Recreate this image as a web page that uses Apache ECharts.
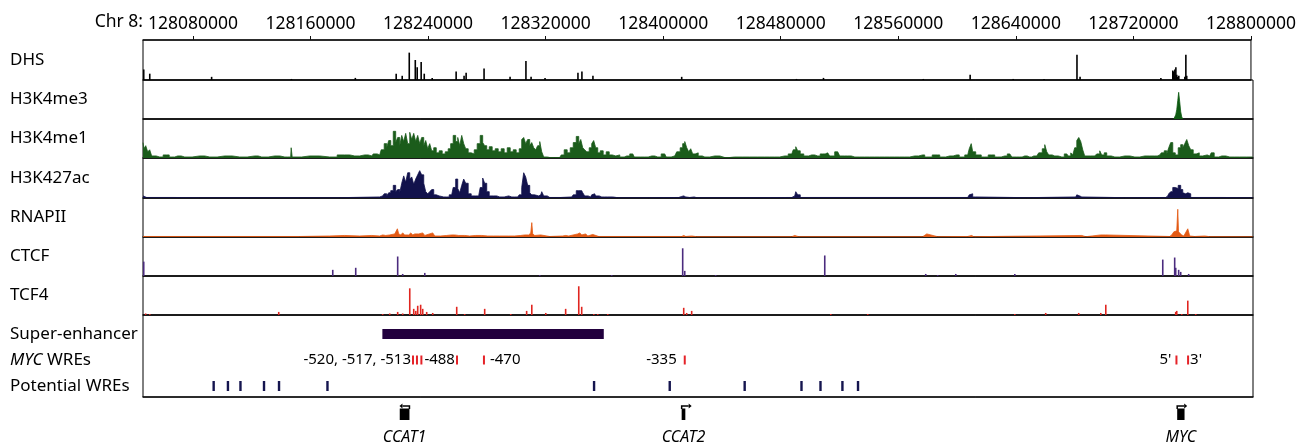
<!DOCTYPE html>
<html>
<head>
<meta charset="utf-8">
<script src="https://cdn.jsdelivr.net/npm/echarts@6/dist/echarts.min.js"></script>
<style>html,body{margin:0;background:#fff}#chart{width:1299px;height:443px}</style>
</head>
<body>
<div id="chart"></div>
<script>
// genomic window on chr8, in kb
var winStart = 128046, winEnd = 128800;
var tickKb = [128080, 128160, 128240, 128320, 128400, 128480, 128560, 128640, 128720, 128800];

var trackNames = ['DHS', 'H3K4me3', 'H3K4me1', 'H3K427ac', 'RNAPII', 'CTCF', 'TCF4'];

// [position kb, signal]
var dhs = [[128046.5,10],[128050.6,6],[128092.7,3],[128147.0,1],[128190.5,2],[128218.3,6],[128222.4,4],[128227.2,26],[128231.3,19],[128232.6,12],[128235.3,17],[128237.4,6],[128242.8,2],[128259.1,8],[128264.5,4],[128265.9,7],[128278.1,11],[128295.8,3],[128306.6,18],[128310.1,3],[128319.6,2],[128342.0,7],[128344.7,8],[128352.2,4],[128412.6,3],[128490.7,1],[128509.1,2],[128577.0,1],[128608.9,5],[128638.2,1],[128659.2,1],[128681.6,24],[128683.7,3],[128738.7,2],[128746.8,9],[128747.5,8],[128748.2,10],[128748.9,12],[128749.5,5],[128750.2,3],[128750.9,4],[128755.0,3],[128755.7,24],[128756.3,4]];

var h3k4me3 = [[128746.2,0],[128747.5,4],[128748.2,9],[128748.9,18],[128749.5,26],[128750.2,17],[128750.9,7],[128751.6,2],[128752.4,0]];

var h3k4me1 = [[128046.0,15],[128047.2,9],[128048.5,12],[128049.9,6],[128051.2,8],[128052.6,2],[128057.3,1],[128062.1,3],[128065.5,1],[128069.6,2],[128074.3,1],[128084.5,2],[128091.3,1],[128101.5,2],[128111.7,1],[128121.9,2],[128126.6,1],[128135.5,2],[128142.3,1],[128146.3,1],[128147.0,10],[128147.7,1],[128148.4,1],[128159.2,2],[128172.8,1],[128183.0,3],[128189.8,2],[128196.6,3],[128201.4,2],[128203.4,4],[128206.8,3],[128208.8,8],[128210.9,14],[128212.2,10],[128213.6,17],[128215.0,12],[128217.0,26],[128218.3,15],[128219.7,20],[128221.1,12],[128222.4,22],[128223.8,16],[128225.1,24],[128226.5,14],[128227.9,25],[128229.2,18],[128230.6,24],[128231.9,16],[128233.3,22],[128234.6,14],[128236.0,20],[128237.4,12],[128238.7,17],[128240.1,9],[128241.4,14],[128242.8,7],[128244.2,10],[128246.2,5],[128248.2,7],[128250.3,4],[128252.3,6],[128254.3,9],[128255.7,14],[128257.7,22],[128259.1,16],[128260.5,20],[128261.8,12],[128263.2,22],[128264.5,14],[128265.9,9],[128267.9,5],[128270.0,4],[128272.0,8],[128274.0,14],[128276.1,22],[128277.4,15],[128278.8,12],[128280.2,8],[128282.2,11],[128284.2,7],[128286.3,9],[128288.3,6],[128290.3,9],[128292.4,5],[128294.4,10],[128296.5,6],[128298.5,8],[128300.5,5],[128302.6,9],[128303.9,18],[128305.3,20],[128306.6,14],[128308.0,18],[128309.4,12],[128310.7,15],[128312.1,10],[128313.4,8],[128314.8,12],[128316.2,16],[128317.5,6],[128318.9,1],[128322.3,0.5],[128329.1,0.5],[128331.1,3],[128333.1,8],[128335.2,5],[128337.2,10],[128339.3,15],[128341.3,21],[128342.7,14],[128344.0,18],[128345.4,10],[128346.7,8],[128348.1,6],[128350.1,10],[128351.5,14],[128352.8,17],[128354.2,10],[128355.6,5],[128357.6,7],[128359.6,3],[128361.7,6],[128363.7,3],[128365.8,2],[128368.5,3],[128371.2,1],[128374.6,2],[128378.7,4],[128380.7,1],[128386.8,1],[128391.6,2],[128395.6,1],[128400.4,4],[128402.4,1],[128407.2,2],[128409.9,6],[128411.9,10],[128413.3,14],[128414.7,16],[128416.0,10],[128417.4,6],[128418.7,9],[128420.1,4],[128422.1,5],[128424.2,2],[128427.6,1],[128434.4,2],[128441.2,0.5],[128447.9,1],[128458.1,1],[128468.3,1],[128475.1,1],[128481.9,2],[128486.7,4],[128488.7,8],[128490.1,11],[128491.4,7],[128493.5,4],[128496.2,2],[128500.2,3],[128504.3,2],[128507.7,4],[128511.1,5],[128513.8,2],[128517.9,6],[128520.6,2],[128524.7,2],[128529.5,1],[128536.2,1],[128543.0,1],[128549.8,1],[128556.6,1],[128563.4,1],[128570.2,2],[128575.6,3],[128578.4,1],[128585.8,3],[128588.6,1],[128594.0,2],[128598.7,3],[128602.2,1],[128606.2,3],[128608.3,9],[128608.9,14],[128610.3,6],[128613.0,3],[128617.8,1],[128622.5,3],[128626.6,1],[128631.4,2],[128634.8,4],[128637.5,1],[128641.5,1],[128644.9,2],[128648.3,1],[128651.1,2],[128653.1,2],[128655.8,5],[128657.9,9],[128659.2,13],[128660.6,6],[128661.9,3],[128665.3,2],[128670.1,1],[128673.5,4],[128675.5,2],[128676.9,5],[128678.2,3],[128679.6,10],[128681.0,17],[128682.3,20],[128683.7,16],[128685.0,8],[128686.4,2],[128692.5,2],[128695.2,4],[128696.6,7],[128697.9,3],[128700.0,5],[128701.3,2],[128706.1,1],[128712.9,2],[128719.7,1],[128726.5,2],[128733.3,2],[128736.7,3],[128738.7,5],[128740.7,7],[128742.1,4],[128743.4,10],[128744.8,15],[128746.2,5],[128748.2,3],[128750.2,10],[128751.6,13],[128753.0,10],[128754.3,14],[128755.7,18],[128757.0,12],[128758.4,8],[128760.4,4],[128762.5,5],[128764.5,2],[128767.2,3],[128770.6,2],[128772.6,5],[128774.7,1],[128778.8,2],[128784.2,1],[128791.0,1],[128799.8,1]];

var h3k27ac = [[128046.0,2],[128048.5,0.5],[128084.5,0.3],[128152.4,0.3],[128206.8,1],[128208.8,2],[128210.9,4],[128212.2,2],[128213.6,5],[128215.0,7],[128217.0,12],[128218.3,6],[128219.7,8],[128221.1,5],[128222.4,14],[128223.8,21],[128225.1,15],[128226.5,24],[128227.9,18],[128229.2,20],[128230.6,13],[128231.9,18],[128233.3,22],[128234.6,26],[128236.0,22],[128237.4,14],[128238.7,6],[128240.1,4],[128241.4,6],[128242.8,8],[128244.2,3],[128246.2,2],[128248.2,1],[128252.3,1],[128255.7,3],[128257.7,10],[128259.1,18],[128260.5,9],[128261.8,5],[128263.2,12],[128264.5,18],[128265.9,14],[128267.9,4],[128270.0,2],[128274.0,2],[128276.1,10],[128277.4,19],[128278.8,14],[128280.2,6],[128282.2,2],[128286.3,2],[128288.3,1],[128294.4,2],[128296.5,1],[128300.5,1],[128302.6,3],[128303.9,10],[128305.3,24],[128306.6,20],[128308.0,12],[128309.4,5],[128310.7,3],[128313.4,2],[128316.2,3],[128317.5,6],[128318.9,2],[128322.3,0.5],[128337.2,1],[128339.3,3],[128341.3,7],[128342.7,8],[128344.0,7],[128345.4,5],[128346.7,2],[128350.1,1],[128351.5,3],[128352.8,4],[128354.2,2],[128357.6,1],[128361.7,1],[128368.5,0.3],[128409.9,0.5],[128411.9,1.5],[128413.3,2],[128414.7,1],[128417.4,0.5],[128418.7,1],[128422.1,0.3],[128486.7,0.5],[128488.7,2],[128490.1,6],[128491.4,3],[128493.5,0.5],[128606.2,0.5],[128608.3,3],[128608.9,4],[128610.3,1],[128613.0,0.3],[128679.6,1],[128681.0,3],[128682.3,2],[128683.7,1],[128685.0,0.3],[128740.7,0.5],[128742.1,2],[128743.4,4],[128744.8,6],[128746.2,10],[128748.2,9],[128750.2,12],[128751.6,8],[128753.0,5],[128754.3,4],[128755.7,5],[128757.0,4],[128758.4,0.5],[128799.8,0.3]];

var rnapii = [[128046.0,0.5],[128152.4,0.5],[128172.8,1],[128183.0,1.5],[128193.2,1],[128201.4,1.5],[128206.8,1],[128208.8,2],[128210.9,1.5],[128213.6,2],[128217.0,3],[128218.8,8],[128219.7,3],[128221.1,2],[128222.4,4],[128223.8,2],[128225.1,3],[128226.5,2],[128227.9,4],[128229.2,2],[128230.6,3],[128231.9,2],[128233.3,3],[128234.6,1.5],[128236.0,4],[128237.4,1.5],[128238.7,1],[128242.8,4],[128244.2,1],[128248.2,1],[128252.3,1.5],[128255.7,2],[128257.7,2],[128260.5,1.5],[128264.5,1.5],[128267.9,1],[128272.0,1.5],[128276.1,1.5],[128280.2,1],[128284.2,1],[128288.3,1],[128294.4,1],[128298.5,1],[128302.6,1.5],[128305.3,2],[128308.0,2],[128309.4,4],[128310.1,14],[128310.7,3],[128312.1,1.5],[128316.2,2],[128317.5,1],[128322.3,0.5],[128331.1,1],[128333.1,1.5],[128335.2,1],[128341.3,3],[128342.7,4],[128344.0,2],[128346.7,3],[128348.1,1],[128351.5,2.5],[128352.8,1],[128355.6,0.5],[128411.9,0.5],[128413.3,1.5],[128414.7,0.5],[128418.7,1],[128422.1,0.3],[128486.7,0.3],[128488.7,1.5],[128491.4,0.3],[128575.6,0.3],[128578.4,3],[128585.8,0.3],[128606.2,0.5],[128608.9,1.5],[128610.3,0.3],[128683.7,1.5],[128686.4,0.3],[128696.6,2],[128697.9,1],[128700.0,2],[128701.3,0.3],[128743.4,0.5],[128744.8,2],[128746.2,5],[128748.2,6],[128748.5,5],[128748.9,27],[128749.4,5],[128750.2,5],[128751.6,2],[128753.0,1],[128754.3,2],[128755.7,8],[128757.0,1],[128760.4,0.5],[128767.2,1],[128770.6,0.3],[128799.8,0.3]];

var ctcf = [[128046.5,14],[128174.9,6],[128190.5,8],[128219.0,19],[128222.4,2],[128237.4,3],[128315.5,1],[128364.4,1],[128412.6,27],[128414.0,5],[128435.0,1],[128509.1,20],[128577.7,2],[128585.8,1],[128598.1,2],[128638.2,2],[128738.7,16],[128746.8,18],[128747.5,8],[128749.5,6],[128750.9,4],[128756.3,2]];

var tcf4 = [[128047.8,1.5],[128050.6,1],[128138.2,3],[128208.8,1],[128213.6,1.5],[128219.0,3],[128222.4,1.5],[128227.2,26],[128229.9,6],[128231.3,4],[128232.6,9],[128234.6,10],[128236.0,6],[128238.7,3],[128242.8,2],[128259.1,8],[128264.5,1],[128278.1,6],[128295.8,1],[128306.6,4],[128310.1,10],[128319.6,2],[128333.1,6],[128342.0,28],[128344.0,8],[128352.2,1],[128354.9,1],[128361.7,1],[128413.3,7],[128415.3,2],[128418.7,4],[128513.2,1],[128538.3,1],[128638.2,1],[128659.2,2],[128681.6,2],[128696.6,2],[128700.0,10],[128747.5,3],[128748.2,4],[128751.6,1],[128755.7,14],[128761.1,1]];

// annotation rows
var rowNames = ['Potential WREs', 'MYC WREs', 'Super-enhancer'];
var superEnhancer = [128208.6, 128359.0];
var mycWREs = [128229.4, 128232.1, 128235.1, 128259.3, 128277.6, 128414.0, 128748.0, 128755.9];
var mycWRELabels = [['-520, -517, -513', 0], ['-488', 2], ['-470', 4], ['-335', 5], ["5'", 6], ["3'", 7]];
var potentialWREs = [128094.0, 128103.7, 128112.2, 128128.2, 128138.4, 128171.3, 128352.4, 128403.8, 128454.7, 128493.3, 128506.2, 128521.1, 128531.7];
var genes = [
  {name: 'CCAT1', start: 128220.4, end: 128227.0, strand: '-'},
  {name: 'CCAT2', start: 128411.9, end: 128414.4, strand: '+'},
  {name: 'MYC', start: 128748.5, end: 128753.5, strand: '+'}
];

var FONT = '"Noto Sans", sans-serif';
var trackColors = ['#000000', '#0e5a12', '#1b5c1b', '#12124c', '#e35a14', '#4b2b7e', '#e0251f'];
var trackTypes = ['bar', 'line', 'line', 'line', 'line', 'bar', 'bar'];
var trackStep = [false, false, 'middle', 'middle', false, false, false];
var trackData = [dhs, h3k4me3, h3k4me1, h3k27ac, rnapii, ctcf, tcf4];
var trackTops = [40, 80, 119, 158, 198, 237, 276];
var trackHeights = [40, 39, 39, 40, 39, 39, 39];
var wreLabelPlacement = [['left', 1], ['right', 2], ['right', 5], ['left', 7], ['left', 4], ['right', 1]];

var chart = echarts.init(document.getElementById('chart'));
var grids = [], xAxes = [], yAxes = [], series = [];

function xAxisFor(g, extra) {
  return Object.assign({
    type: 'value', gridIndex: g, min: winStart, max: winEnd,
    axisLine: {show: false}, axisTick: {show: false}, axisLabel: {show: false}, splitLine: {show: false}
  }, extra || {});
}

trackNames.forEach(function (name, i) {
  grids.push({left: 143, right: 46, top: trackTops[i], height: trackHeights[i],
    show: true, borderColor: '#000', borderWidth: 1});
  xAxes.push(xAxisFor(i, {axisLine: {show: true, lineStyle: {color: '#111', width: 1.5}}}));
  yAxes.push({
    type: 'value', gridIndex: i, min: 0, max: 38,
    name: name, nameLocation: 'middle', nameRotate: 0, nameGap: 133,
    nameTextStyle: {align: 'left', verticalAlign: 'middle', fontSize: 17, fontFamily: FONT, color: '#000'},
    axisLine: {show: false}, axisTick: {show: false}, axisLabel: {show: false}, splitLine: {show: false}
  });
  var s = {
    name: name, type: trackTypes[i], xAxisIndex: i, yAxisIndex: i,
    data: trackData[i], silent: true, animation: false
  };
  if (trackTypes[i] === 'bar') {
    s.barWidth = 1.6;
    s.itemStyle = {color: trackColors[i]};
  } else {
    s.symbol = 'none';
    s.step = trackStep[i];
    s.lineStyle = {color: trackColors[i], width: 0.8};
    s.areaStyle = {color: trackColors[i], opacity: 1};
  }
  series.push(s);
});

// 7: frame of the annotation box
grids.push({left: 143, right: 46, top: 315, height: 82, show: true, borderColor: '#000', borderWidth: 1});
xAxes.push(xAxisFor(7, {axisLine: {show: true, lineStyle: {color: '#111', width: 1.5}}}));
yAxes.push({type: 'value', gridIndex: 7, show: false});

// 8: annotation rows
grids.push({left: 143, right: 46, top: 321, height: 78});
xAxes.push(xAxisFor(8));
yAxes.push({
  type: 'category', gridIndex: 8, data: rowNames,
  axisLine: {show: false}, axisTick: {show: false}, splitLine: {show: false},
  axisLabel: {
    align: 'left', margin: 133, fontSize: 17, fontFamily: FONT, color: '#000',
    formatter: function (v) { return v === 'MYC WREs' ? '{i|MYC} WREs' : v; },
    rich: {i: {fontStyle: 'italic', fontSize: 17, fontFamily: FONT, color: '#000'}}
  }
});

// 9: genes below the box
grids.push({left: 143, right: 46, top: 400, height: 43});
xAxes.push(xAxisFor(9));
yAxes.push({type: 'value', gridIndex: 9, min: 0, max: 1, show: false});

// 10: coordinate axis on top
xAxes.push(xAxisFor(0, {
  position: 'top',
  axisLine: {show: true, lineStyle: {color: '#111', width: 1.5}},
  axisTick: {show: true, length: 4, lineStyle: {color: '#111'}, customValues: tickKb},
  axisLabel: {show: true, margin: 7, fontSize: 17.5, fontFamily: FONT, color: '#000',
    customValues: tickKb, showMinLabel: true, showMaxLabel: true, hideOverlap: false,
    formatter: function (v) { return String(Math.round(v * 1000)); }}
}));

series.push({
  type: 'custom', xAxisIndex: 8, yAxisIndex: 8, silent: true,
  data: [[superEnhancer[0], superEnhancer[1], 2]],
  encode: {x: [0, 1], y: 2},
  renderItem: function (params, api) {
    var a = api.coord([api.value(0), api.value(2)]);
    var b = api.coord([api.value(1), api.value(2)]);
    return {type: 'rect', shape: {x: a[0], y: a[1] - 5, width: b[0] - a[0], height: 10},
      style: {fill: '#22003e'}};
  }
});

series.push({
  type: 'scatter', xAxisIndex: 8, yAxisIndex: 8, silent: true,
  symbol: 'rect', symbolSize: [2.4, 10],
  itemStyle: {color: '#15154f', opacity: 1},
  data: potentialWREs.map(function (p) { return [p, 'Potential WREs']; })
});

series.push({
  type: 'scatter', xAxisIndex: 8, yAxisIndex: 8, silent: true,
  symbol: 'rect', symbolSize: [2, 9],
  itemStyle: {color: '#e52228', opacity: 1},
  data: mycWREs.map(function (p, i) {
    var item = {value: [p, 'MYC WREs']};
    mycWRELabels.forEach(function (l, k) {
      if (l[1] === i) {
        item.label = {show: true, formatter: l[0], position: wreLabelPlacement[k][0],
          distance: wreLabelPlacement[k][1], fontSize: 15, fontFamily: FONT, color: '#000'};
      }
    });
    return item;
  })
});

series.push({
  type: 'custom', xAxisIndex: 9, yAxisIndex: 9, silent: true, clip: false,
  data: genes.map(function (g) { return [g.start, g.end]; }),
  encode: {x: [0, 1]},
  renderItem: function (params, api) {
    var g = genes[params.dataIndex];
    var top = params.coordSys.y;
    var x0 = api.coord([api.value(0), 0])[0];
    var x1 = api.coord([api.value(1), 0])[0];
    var w = Math.max(x1 - x0, 3);
    var tss = g.strand === '+' ? x0 : x0 + w;
    var dir = g.strand === '+' ? 1 : -1;
    var ay = top + 6;
    return {type: 'group', children: [
      {type: 'rect', shape: {x: x0, y: top + 8.5, width: w, height: 11.5}, style: {fill: '#000'}},
      {type: 'polyline', shape: {points: [[tss, top + 9], [tss, ay], [tss + dir * 7, ay]]},
        style: {stroke: '#000', lineWidth: 1.5, fill: null}},
      {type: 'polygon', shape: {points: [[tss + dir * 10, ay], [tss + dir * 7, ay - 2.5], [tss + dir * 7, ay + 2.5]]},
        style: {fill: '#000'}},
      {type: 'text', style: {text: g.name, x: (x0 + x1) / 2, y: top + 37, align: 'center', verticalAlign: 'middle',
        font: 'italic 16px ' + FONT, fill: '#000'}}
    ]};
  }
});

var option = {
  animation: false,
  backgroundColor: '#fff',
  grid: grids,
  xAxis: xAxes,
  yAxis: yAxes,
  graphic: [{type: 'text', x: 143, y: 22,
    style: {text: 'Chr 8:', align: 'right', verticalAlign: 'middle', font: '17.5px ' + FONT, fill: '#000'}}],
  series: series
};
chart.setOption(option);
</script>
</body>
</html>
